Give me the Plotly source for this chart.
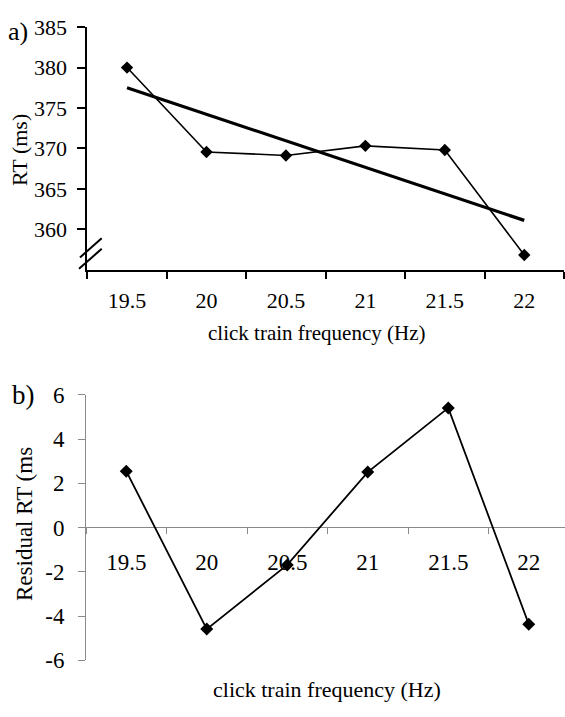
import plotly.graph_objects as go

# ---- data ----
freq = ["19.5", "20", "20.5", "21", "21.5", "22"]
rt_ms = [380.0, 369.56, 369.13, 370.32, 369.8, 356.82]
trend_freq = ["19.5", "22"]
trend_rt = [377.5, 361.1]
residual_ms = [2.55, -4.59, -1.69, 2.51, 5.41, -4.37]

rt_ticks = [360, 365, 370, 375, 380, 385]
res_ticks = [-6, -4, -2, 0, 2, 4, 6]
res_ticktext = ["-6", "-4", "-2", "0", "2", "4", "6"]

W, H = 565, 717
FONT = "Liberation Serif"
GRAY = "#8a8a8a"


def px(x):
    return x / W


def py(y):
    return 1 - y / H


fig = go.Figure()

# (a) RT data + linear trend
fig.add_trace(go.Scatter(
    x=freq, y=rt_ms, mode="lines+markers",
    line=dict(color="black", width=1.6),
    marker=dict(symbol="diamond", size=9.5, color="black"),
    xaxis="x", yaxis="y", showlegend=False, cliponaxis=False))
fig.add_trace(go.Scatter(
    x=trend_freq, y=trend_rt, mode="lines",
    line=dict(color="black", width=3.2),
    xaxis="x", yaxis="y", showlegend=False))

# (b) residuals
fig.add_trace(go.Scatter(
    x=freq, y=residual_ms, mode="lines+markers",
    line=dict(color="black", width=1.8),
    marker=dict(symbol="diamond", size=10, color="black"),
    xaxis="x2", yaxis="y2", showlegend=False, cliponaxis=False))

tick_font_a = dict(family=FONT, size=22, color="black")
tick_font_b = dict(family=FONT, size=23, color="black")

fig.update_layout(
    width=W, height=H, autosize=False,
    margin=dict(l=0, r=0, t=0, b=0),
    paper_bgcolor="white", plot_bgcolor="white",
    font=dict(family=FONT, color="black"),
    xaxis=dict(
        domain=[px(87.3), px(564)], anchor="y",
        type="category", categoryorder="array", categoryarray=freq,
        range=[-0.5, 5.5], tickson="boundaries",
        showline=True, linecolor="black", linewidth=2,
        ticks="outside", ticklen=7, tickwidth=2, tickcolor="black",
        showgrid=False, zeroline=False,
        tickfont=tick_font_a, ticklabelstandoff=10),
    yaxis=dict(
        domain=[py(267), py(15.7)], anchor="x",
        range=[355, 385], tickvals=rt_ticks,
        showline=True, linecolor="black", linewidth=2,
        ticks="outside", ticklen=8, tickwidth=2, tickcolor="black",
        showgrid=False, zeroline=False,
        tickfont=tick_font_a, ticklabelstandoff=6),
    xaxis2=dict(
        domain=[px(86), 1.0], anchor="free", position=py(534),
        overlaying=None,
        type="category", categoryorder="array", categoryarray=freq,
        range=[-0.5, 5.45], tickson="boundaries",
        showline=True, linecolor=GRAY, linewidth=1,
        ticks="outside", ticklen=6, tickwidth=1, tickcolor=GRAY,
        showgrid=False, zeroline=False, layer="below traces",
        tickfont=tick_font_b, ticklabelstandoff=14),
    yaxis2=dict(
        domain=[py(671.7), py(396.7)], anchor="x2",
        range=[-6, 6], tickvals=res_ticks, ticktext=res_ticktext,
        showline=True, linecolor=GRAY, linewidth=1,
        ticks="outside", ticklen=7, tickwidth=1, tickcolor=GRAY,
        showgrid=False, zeroline=False,
        tickfont=tick_font_b, ticklabelstandoff=9),
)

# axis-break marks on the (a) y axis
for (x0, y0, x1, y1) in [(-0.0153, 0.0505, 0.0302, 0.130),
                         (-0.0174, 0.004, 0.0302, 0.086)]:
    fig.add_shape(type="line", xref="x domain", yref="y domain",
                  x0=x0, y0=y0, x1=x1, y1=y1,
                  line=dict(color="black", width=2))

annots = [
    dict(text="a)", x=px(17.5), y=py(20), size=26, angle=0),
    dict(text="b)", x=px(23.5), y=py(397), size=27, angle=0),
    dict(text="RT (ms)", x=px(19.5), y=py(143.5), size=22, angle=-90),
    dict(text="Residual RT (ms", x=px(24.5), y=py(531), size=23, angle=-90),
    dict(text="click train frequency (Hz)", x=px(316), y=py(333), size=21, angle=0),
    dict(text="click train frequency (Hz)", x=px(327), y=py(702), size=22, angle=0),
]
for a in annots:
    fig.add_annotation(text=a["text"], xref="paper", yref="paper",
                       x=a["x"], y=a["y"], xanchor="center", yanchor="middle",
                       showarrow=False, textangle=a["angle"],
                       font=dict(family=FONT, size=a["size"], color="black"))

fig.write_html("out.html")
